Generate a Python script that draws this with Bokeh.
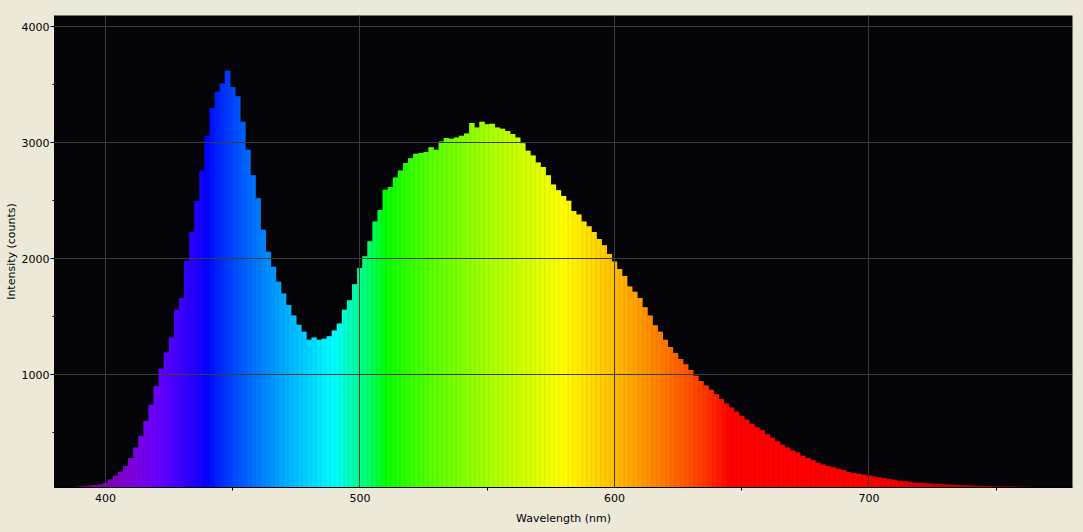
from bokeh.plotting import figure
from bokeh.models import Range1d, FixedTicker, ColumnDataSource
from bokeh.embed import file_html
from bokeh.resources import INLINE

# ---- data ----
wl_start = 390
wl_step = 2
intensity = [
    35, 40, 44, 48, 54, 68, 95, 128, 162, 212,          # 390-408
    280, 370, 470, 600, 740, 900, 1050, 1190, 1320, 1560,  # 410-428
    1660, 1980, 2230, 2500, 2760, 3060, 3300, 3440, 3510, 3620,  # 430-448
    3480, 3400, 3180, 2940, 2720, 2520, 2250, 2060, 1930, 1800,  # 450-468
    1700, 1600, 1510, 1430, 1370, 1300, 1320, 1300, 1310, 1330,  # 470-488
    1380, 1440, 1560, 1640, 1780, 1920, 2020, 2150, 2320, 2420,  # 490-508
    2595, 2617, 2700, 2760, 2825, 2865, 2905, 2910, 2920, 2960,  # 510-528
    2940, 3010, 3040, 3035, 3045, 3060, 3080, 3170, 3130, 3180,  # 530-548
    3158, 3164, 3130, 3120, 3100, 3075, 3045, 2995, 2930, 2890,  # 550-568
    2830, 2790, 2720, 2640, 2590, 2540, 2500, 2410, 2380, 2320,  # 570-588
    2280, 2230, 2170, 2115, 2040, 1975, 1910, 1850, 1760, 1715,  # 590-608
    1660, 1580, 1510, 1425, 1370, 1300, 1238, 1185, 1135, 1090,  # 610-628
    1040, 990, 945, 905, 870, 830, 790, 750, 715, 680,    # 630-648
    645, 610, 575, 545, 520, 485, 455, 425, 395, 370,     # 650-668
    345, 328, 300, 280, 262, 240, 225, 212, 200, 188,     # 670-688
    176, 160, 152, 144, 136, 130, 121, 114, 106, 100,     # 690-708
    92, 85, 80, 75, 70, 67, 64, 61, 59, 56,               # 710-728
    53, 52, 50, 48, 46, 44, 42, 41, 40, 38,               # 730-748
    37, 36, 35, 34, 34, 33, 32, 31, 30, 29,               # 750-768
    28,                                                   # 770
]
wavelength = [wl_start + wl_step * i for i in range(len(intensity))]

x_ticks = [400, 500, 600, 700]
x_minor = [450, 550, 650, 750]
y_ticks = [1000, 2000, 3000, 4000]
y_minor = [500, 1500, 2500, 3500]


def wl_color(w):
    if w < 440:
        r, g, b = -(w - 440) / 60.0, 0.0, 1.0
    elif w < 490:
        r, g, b = 0.0, (w - 440) / 50.0, 1.0
    elif w < 510:
        r, g, b = 0.0, 1.0, -(w - 510) / 20.0
    elif w < 580:
        r, g, b = (w - 510) / 70.0, 1.0, 0.0
    elif w < 645:
        r, g, b = 1.0, -(w - 645) / 65.0, 0.0
    else:
        r, g, b = 1.0, 0.0, 0.0
    if w < 420:
        f = 0.3 + 0.7 * (w - 380) / 40.0
    elif w > 700:
        f = 0.3 + 0.7 * (780 - w) / 80.0
    else:
        f = 1.0
    conv = lambda c: int(round(255 * ((c * f) ** 0.8))) if c > 0 else 0
    return "#%02x%02x%02x" % (conv(r), conv(g), conv(b))


# each measured bar is painted as 4 thin colour strips of the same height
N_SUB = 4
sub_w = wl_step / N_SUB
xs, tops, cols = [], [], []
for w, v in zip(wavelength, intensity):
    for k in range(N_SUB):
        cx = w - wl_step / 2 + sub_w * (k + 0.5)
        xs.append(cx)
        tops.append(v)
        cols.append(wl_color(cx))
src = ColumnDataSource(dict(x=xs, top=tops, color=cols))

BG = "#ECE9D8"
FONT = "DejaVu Sans"

p = figure(width=1083, height=532, output_backend="svg", toolbar_location=None,
           x_range=Range1d(380, 780), y_range=Range1d(26, 4097))
p.background_fill_color = "#050408"
p.border_fill_color = BG
p.outline_line_color = None
p.min_border_left = 54
p.min_border_right = 11
p.min_border_top = 15
p.min_border_bottom = 45

p.vbar(x="x", width=sub_w + 0.2, top="top", bottom=0, source=src,
       fill_color="color", line_color=None)

p.xaxis.ticker = FixedTicker(ticks=x_ticks, minor_ticks=x_minor)
p.yaxis.ticker = FixedTicker(ticks=y_ticks, minor_ticks=y_minor)

for ax in (p.xaxis, p.yaxis):
    ax.axis_line_color = "black"
    ax.major_tick_line_color = "black"
    ax.minor_tick_line_color = "black"
    ax.major_label_text_font = FONT
    ax.major_label_text_font_size = "11px"
    ax.major_label_text_color = "black"
    ax.axis_label_text_font = FONT
    ax.axis_label_text_font_size = "11px"
    ax.axis_label_text_font_style = "normal"
    ax.axis_label_text_color = "black"

p.xaxis.axis_label = "Wavelength (nm)"
p.yaxis.axis_label = "Intensity (counts)"
p.xaxis.major_tick_out = 0
p.xaxis.major_tick_in = 0
p.xaxis.minor_tick_out = 3
p.xaxis.minor_tick_in = 0
p.xaxis.major_label_standoff = 3
p.xaxis.axis_label_standoff = 7
p.yaxis.major_tick_out = 4
p.yaxis.major_tick_in = 0
p.yaxis.minor_tick_out = 2
p.yaxis.minor_tick_in = 0
p.yaxis.major_label_standoff = 1
p.yaxis.axis_label_standoff = 1

for g in (p.xgrid, p.ygrid):
    g.grid_line_color = "#3c3c3c"
    g.grid_line_width = 1
    g.level = "overlay"
p.xgrid.ticker = FixedTicker(ticks=x_ticks)
p.ygrid.ticker = FixedTicker(ticks=y_ticks)

html = file_html(p, INLINE)
html = html.replace("<head>", "<head><style>html,body{background:%s;}</style>" % BG, 1)
open("out.html", "w").write(html)
